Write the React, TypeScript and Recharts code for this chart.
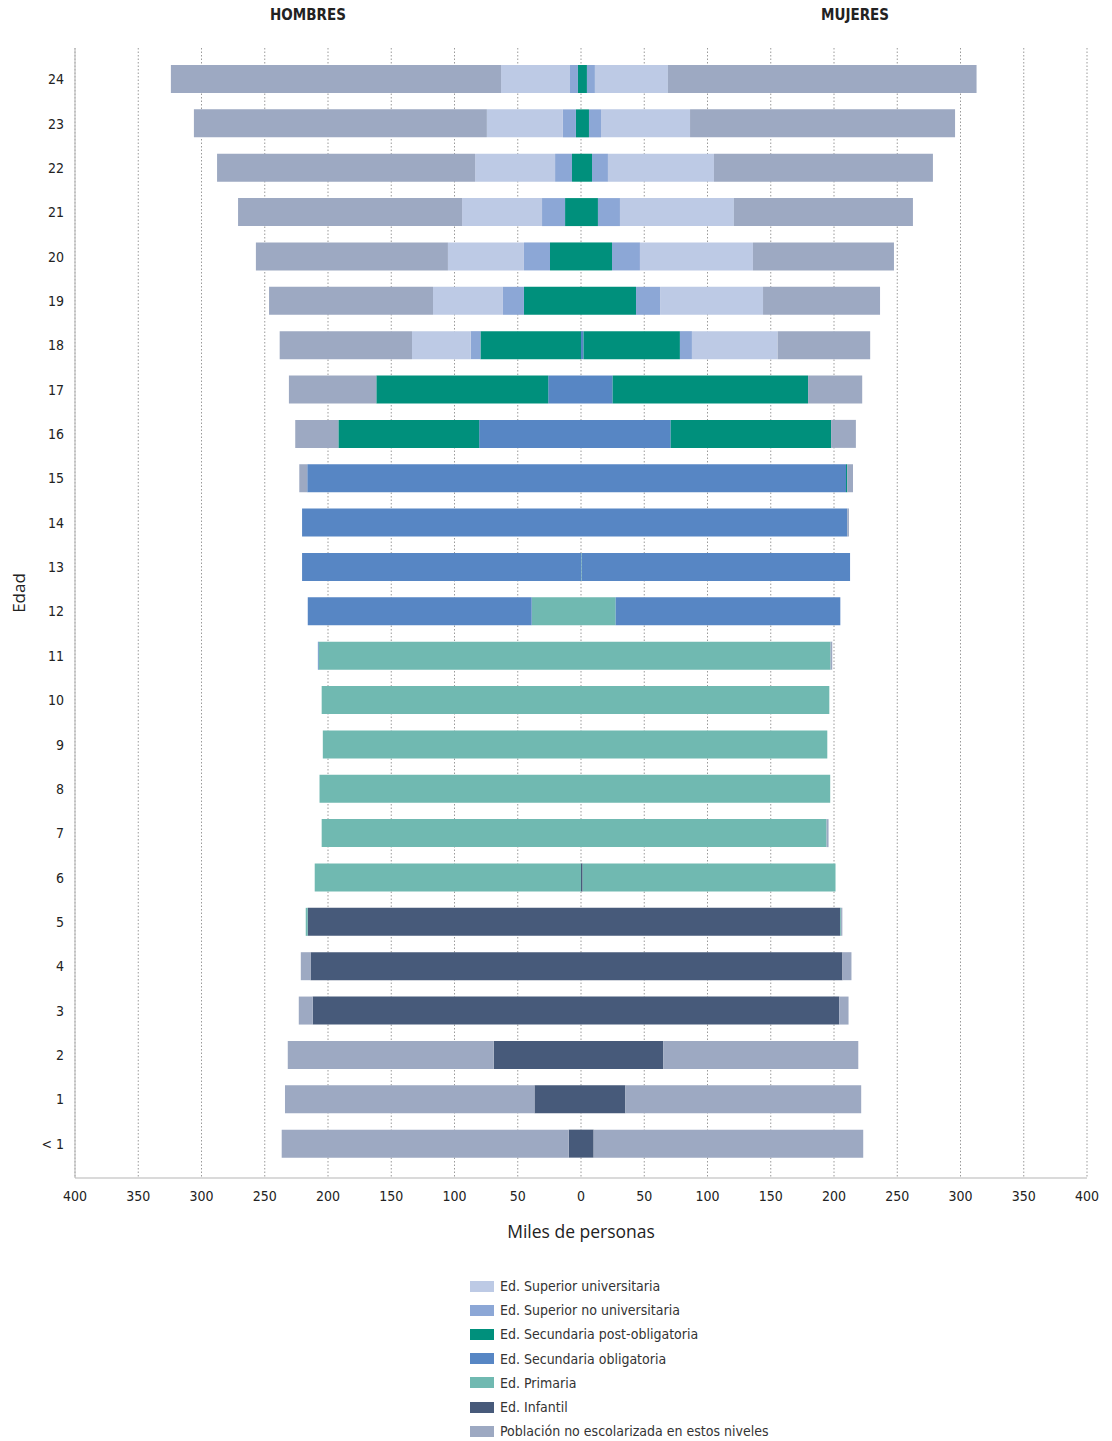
import { BarChart, Bar, XAxis, YAxis, CartesianGrid, Legend } from "recharts";

const EDADES = ["< 1", "1", "2", "3", "4", "5", "6", "7", "8", "9", "10", "11", "12", "13", "14", "15", "16", "17", "18", "19", "20", "21", "22", "23", "24"];

// miles de personas, por edad (< 1 ... 24)
const infantilH = [9.7, 36.8, 69, 212.1, 213.8, 216, 0, 0, 0, 0, 0, 0, 0, 0, 0, 0, 0, 0, 0, 0, 0, 0, 0, 0, 0];
const infantilM = [10, 35.1, 65.1, 204.1, 206.7, 205, 1.3, 0, 0, 0, 0, 0, 0, 0, 0, 0, 0, 0, 0, 0, 0, 0, 0, 0, 0];
const primariaH = [0, 0, 0, 0, 0, 1.6, 210.5, 205, 206.7, 204.1, 205, 207.4, 39, 0, 0, 0, 0, 0, 0, 0, 0, 0, 0, 0, 0];
const primariaM = [0, 0, 0, 0, 0, 0.6, 199.9, 194.1, 197, 194.7, 196.3, 197.3, 27.4, 0.5, 0, 0, 0, 0, 0, 0, 0, 0, 0, 0, 0];
const secOblH = [0, 0, 0, 0, 0, 0, 0, 0, 0, 0, 0, 0.6, 177, 220.5, 220.5, 216.4, 80.5, 25.9, 0, 0, 0, 0, 0, 0, 0];
const secOblM = [0, 0, 0, 0, 0, 0, 0, 0, 0, 0, 0, 0, 177.6, 212.2, 210.5, 209.5, 70.9, 25, 2, 0, 0, 0, 0, 0, 0];
const secPostH = [0, 0, 0, 0, 0, 0, 0, 0, 0, 0, 0, 0, 0, 0, 0, 0, 111.3, 135.9, 79.5, 45.1, 24.5, 12.6, 7.1, 4, 2.4];
const secPostM = [0, 0, 0, 0, 0, 0, 0, 0, 0, 0, 0, 0, 0, 0, 0, 0.9, 126.8, 154.5, 76.2, 43.5, 24.5, 13.4, 8.7, 6.3, 4.7];
const supNoUnivH = [0, 0, 0, 0, 0, 0, 0, 0, 0, 0, 0, 0, 0, 0, 0, 0, 0, 0, 7.8, 16.6, 20.6, 18.2, 13.4, 10.3, 6.3];
const supNoUnivM = [0, 0, 0, 0, 0, 0, 0, 0, 0, 0, 0, 0, 0, 0, 0, 0, 0, 0, 9.5, 19, 22.1, 17.4, 12.6, 9.5, 6.3];
const supUnivH = [0, 0, 0, 0, 0, 0, 0, 0, 0, 0, 0, 0, 0, 0, 0, 0, 0, 0, 46.3, 55.3, 60.1, 63.2, 63.2, 60.1, 54.5];
const supUnivM = [0, 0, 0, 0, 0, 0, 0, 0, 0, 0, 0, 0, 0, 0, 0, 0, 0, 0, 67.8, 81.4, 89.3, 90.1, 83.8, 70.4, 57.7];
const noEscH = [226.9, 197.2, 162.8, 11, 7.7, 0, 0, 0, 0, 0, 0, 0, 0, 0, 0, 6.3, 34.1, 69.1, 104.6, 129.6, 151.8, 177.1, 204, 231.6, 261];
const noEscM = [213.1, 186.4, 154.1, 7.4, 7.1, 1, 0, 1.6, 0, 0, 0, 1.3, 0, 0, 1.3, 4.6, 19.6, 42.8, 73.1, 92.5, 111.5, 141.5, 173.1, 209.5, 244];

const X_TICKS = [-400, -350, -300, -250, -200, -150, -100, -50, 0, 50, 100, 150, 200, 250, 300, 350, 400];

// del centro hacia fuera
const SERIES = [
    { key: "inf", name: "Ed. Infantil", color: "#475a7a", h: infantilH, m: infantilM },
    { key: "pri", name: "Ed. Primaria", color: "#70b9b1", h: primariaH, m: primariaM },
    { key: "sob", name: "Ed. Secundaria obligatoria", color: "#5786c4", h: secOblH, m: secOblM },
    { key: "spo", name: "Ed. Secundaria post-obligatoria", color: "#00907c", h: secPostH, m: secPostM },
    { key: "snu", name: "Ed. Superior no universitaria", color: "#8ca7d6", h: supNoUnivH, m: supNoUnivM },
    { key: "sun", name: "Ed. Superior universitaria", color: "#bdcae5", h: supUnivH, m: supUnivM },
    { key: "noe", name: "Población no escolarizada en estos niveles", color: "#9da9c2", h: noEscH, m: noEscM },
];

const LEGEND_ORDER = ["sun", "snu", "spo", "sob", "pri", "inf", "noe"];

const data = EDADES.map((edad, i) => {
    const row: Record<string, string | number> = { edad };
    SERIES.forEach((s) => {
        row[s.key + "H"] = -s.h[i];
        row[s.key + "M"] = s.m[i];
    });
    return row;
}).reverse();

const NARROW = "'Liberation Sans Narrow', 'DejaVu Sans Condensed', 'Open Sans', sans-serif";
const SANS = "'Open Sans', 'Noto Sans', sans-serif";

const LegendList = () => (
    <div style={{ fontFamily: NARROW, fontSize: 14, color: "#333" }}>
        {LEGEND_ORDER.map((k) => {
            const s = SERIES.find((x) => x.key === k)!;
            return (
                <div key={k} style={{ display: "flex", alignItems: "center", height: 24.2 }}>
                    <span style={{ width: 24, height: 11, background: s.color, marginRight: 6, display: "inline-block" }} />
                    <span>{s.name}</span>
                </div>
            );
        })}
    </div>
);

const App = () => {
    return (
        <div style={{ position: "absolute", left: 0, top: 0, width: 1112, height: 1441, background: "#fff" }}>
            <div style={{ position: "absolute", left: 250, width: 116, top: 6, textAlign: "center", fontFamily: NARROW, fontWeight: 700, fontSize: 15, color: "#222" }}>
                HOMBRES
            </div>
            <div style={{ position: "absolute", left: 797, width: 116, top: 6, textAlign: "center", fontFamily: NARROW, fontWeight: 700, fontSize: 15, color: "#222" }}>
                MUJERES
            </div>
            <div
                style={{
                    position: "absolute",
                    left: 18,
                    top: 593,
                    transform: "translate(-50%, -50%) rotate(-90deg)",
                    fontFamily: SANS,
                    fontSize: 17,
                    color: "#222",
                    whiteSpace: "nowrap",
                }}
            >
                Edad
            </div>
            <BarChart
                width={1112}
                height={1441}
                data={data}
                layout="vertical"
                stackOffset="sign"
                barSize={28}
                margin={{ top: 48, right: 25, bottom: 203, left: 15 }}
            >
                <CartesianGrid horizontal={false} stroke="#9a9a9a" strokeDasharray="1.5 2" ticks={X_TICKS} />
                <XAxis
                    type="number"
                    domain={[-400, 400]}
                    ticks={X_TICKS}
                    tickFormatter={(v: number) => String(Math.abs(v))}
                    height={60}
                    tickSize={0}
                    tickMargin={13}
                    stroke="#b5b5b5"
                    tick={{ fill: "#222", fontSize: 14, fontFamily: NARROW }}
                    label={{ value: "Miles de personas", position: "bottom", offset: -12, fill: "#222", fontSize: 17.5, fontFamily: SANS }}
                />
                <YAxis
                    type="category"
                    dataKey="edad"
                    width={60}
                    tickSize={0}
                    tickMargin={11}
                    stroke="#b5b5b5"
                    padding={{ top: 9, bottom: 12 }}
                    interval={0}
                    tick={{ fill: "#222", fontSize: 14, fontFamily: NARROW }}
                />
                <Legend
                    layout="vertical"
                    align="center"
                    verticalAlign="middle"
                    wrapperStyle={{ position: "absolute", left: 470, top: 1274, width: 320 }}
                    content={() => <LegendList />}
                />
                {SERIES.flatMap((s) => [
                    <Bar key={s.key + "H"} dataKey={s.key + "H"} name={s.name} stackId="pir" fill={s.color} isAnimationActive={false} legendType="none" />,
                    <Bar key={s.key + "M"} dataKey={s.key + "M"} name={s.name} stackId="pir" fill={s.color} isAnimationActive={false} legendType="none" />,
                ])}
            </BarChart>
        </div>
    );
};

export default App;
